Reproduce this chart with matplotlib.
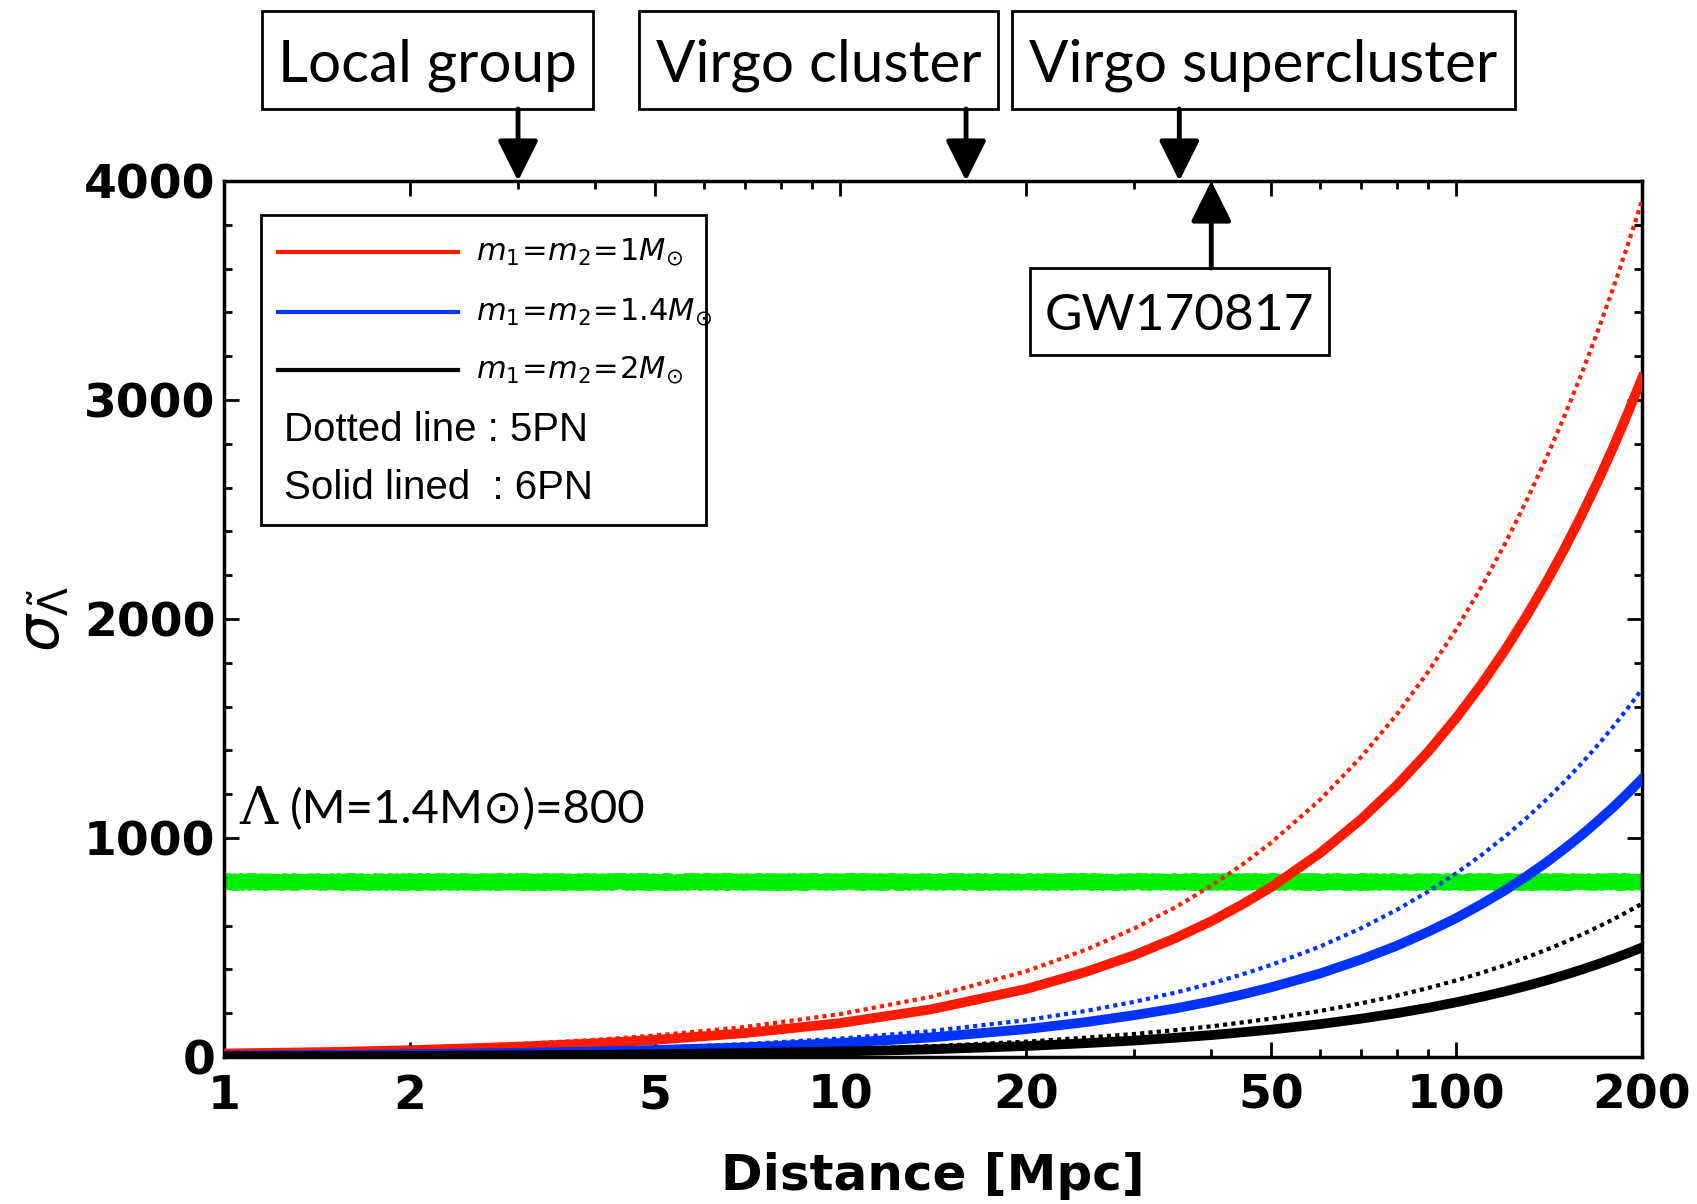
import matplotlib
matplotlib.use("Agg")
import matplotlib.pyplot as plt
from matplotlib.patches import Rectangle
from matplotlib.ticker import FixedLocator, MultipleLocator, NullFormatter

# distances [Mpc] and estimated errors on the tidal deformability
distance = [1, 1.5, 2, 3, 4, 5, 7, 10, 14, 20, 25, 30, 35, 40, 45, 50, 60,
            70, 80, 90, 100, 110, 120, 130, 140, 150, 160, 170, 180, 190, 200]

red_5pn = [20, 29, 39, 59, 78, 98, 137, 196, 274, 391, 489, 587, 684, 782,
           880, 978, 1173, 1369, 1564, 1760, 1955, 2151, 2346, 2542, 2737,
           2933, 3128, 3324, 3519, 3715, 3910]
red_6pn = [16, 23, 31, 47, 62, 78, 109, 155, 217, 310, 388, 465, 543, 620,
           698, 775, 930, 1085, 1240, 1395, 1550, 1705, 1860, 2015, 2170,
           2325, 2480, 2635, 2790, 2945, 3100]
blue_5pn = [8, 13, 17, 25, 34, 42, 59, 84, 118, 168, 210, 252, 294, 336,
            378, 420, 504, 588, 672, 756, 840, 924, 1008, 1092, 1176, 1260,
            1344, 1428, 1512, 1596, 1680]
blue_6pn = [6, 10, 13, 19, 25, 32, 44, 64, 89, 127, 159, 191, 222, 254, 286,
            318, 381, 445, 508, 572, 635, 699, 762, 826, 889, 953, 1016,
            1080, 1143, 1207, 1270]
black_5pn = [4, 5, 7, 11, 14, 18, 25, 35, 49, 70, 88, 105, 123, 140, 158,
             175, 210, 245, 280, 315, 350, 385, 420, 455, 490, 525, 560, 595,
             630, 665, 700]
black_6pn = [3, 4, 5, 8, 10, 13, 18, 25, 35, 50, 63, 75, 88, 100, 113, 125,
             150, 175, 200, 225, 250, 275, 300, 325, 350, 375, 400, 425, 450,
             475, 500]

lambda_ref = 800

xticks = [1, 2, 5, 10, 20, 50, 100, 200]
yticks = [0, 1000, 2000, 3000, 4000]

mass_labels = [r"$m_1\!=\!m_2\!=\!1M_{\!\odot}$",
               r"$m_1\!=\!m_2\!=\!1.4M_{\!\odot}$",
               r"$m_1\!=\!m_2\!=\!2M_{\!\odot}$"]
colors = ["#ff1a00", "#0033ff", "black"]

# (label, distance of source, box in pixels: x0, x1, y0, y1 from top-left)
structures = [("Local group", 3, (262, 593, 11, 109)),
              ("Virgo cluster", 16, (639, 998, 11, 109)),
              ("Virgo supercluster", 35.5, (1012, 1515, 11, 109))]
gw_event = ("GW170817", 40, (1030, 1329, 268, 355))

W, H = 1697, 1204
fig = plt.figure(figsize=(W / 100, H / 100), dpi=100)
ax = fig.add_axes([224 / W, 1 - 1057 / H, 1418 / W, 876 / H])


def px(x, y):
    return x / W, 1 - y / H


green = ax.axhline(lambda_ref, color="#00ee00", lw=10, zorder=2)
green.set_sketch_params(scale=2, length=6, randomness=3)

solid_lw = 7
dot_lw = 3
for c, d5, d6 in [(colors[0], red_5pn, red_6pn),
                  (colors[1], blue_5pn, blue_6pn),
                  (colors[2], black_5pn, black_6pn)]:
    ax.plot(distance, d5, color=c, lw=dot_lw, ls=(0, (1, 1)), zorder=3)
    ax.plot(distance, d6, color=c, lw=solid_lw, zorder=3)

ax.set_xscale("log")
ax.set_xlim(1, 200)
ax.set_ylim(0, 4000)
ax.xaxis.set_major_locator(FixedLocator(xticks))
ax.set_xticklabels([str(t) for t in xticks])
ax.xaxis.set_minor_formatter(NullFormatter())
ax.set_yticks(yticks)
ax.yaxis.set_minor_locator(MultipleLocator(200))

ax.tick_params(which="both", direction="in", top=True, right=True, width=2)
ax.tick_params(which="major", length=11)
ax.tick_params(which="minor", length=6)
ax.tick_params(axis="x", pad=12)
ax.tick_params(axis="y", pad=6)
for lab in ax.get_xticklabels() + ax.get_yticklabels():
    lab.set_fontsize(34)
    lab.set_fontweight("bold")
for s in ax.spines.values():
    s.set_linewidth(2.5)

ax.set_xlabel("Distance [Mpc]", fontsize=36, fontweight="bold",
              va="baseline")
ax.xaxis.set_label_coords(0.5, -0.152)
ax.set_ylabel(r"$\sigma_{\tilde{\Lambda}}$", fontsize=42, va="center")
ax.yaxis.set_label_coords(-0.128, 0.5)

# legend drawn by hand
ax.add_patch(Rectangle((0.026, 0.607), 0.314, 0.354, transform=ax.transAxes,
                       fill=False, lw=2, ec="black", zorder=5))
for ypos, c, lab in zip([0.919, 0.850, 0.784], colors, mass_labels):
    ax.plot([0.038, 0.165], [ypos, ypos], transform=ax.transAxes, color=c,
            lw=3, zorder=6)
    ax.text(0.178, ypos, lab, transform=ax.transAxes, fontsize=22,
            va="center", ha="left", zorder=6)
ax.text(0.042, 0.716, "Dotted line : 5PN", transform=ax.transAxes,
        fontsize=29, family="Liberation Sans", va="center", zorder=6)
ax.text(0.042, 0.650, "Solid lined  : 6PN", transform=ax.transAxes,
        fontsize=29, family="Liberation Sans", va="center", zorder=6)

ax.text(1.06, 1130, "Λ", fontsize=38, family="DejaVu Serif", va="center")
ax.text(1.28, 1130, "(M=1.4M⊙)=800", fontsize=34,
        family=["Lato", "DejaVu Sans"], va="center")


def label_box(text, xd, box, size, upward=False):
    x0, x1, y0, y1 = box
    fx0, fy1 = px(x0, y1)
    fx1, fy0 = px(x1, y0)
    fig.add_artist(Rectangle((fx0, fy1), fx1 - fx0, fy0 - fy1,
                             transform=fig.transFigure, fill=False,
                             lw=2, ec="black"))
    fig.text((fx0 + fx1) / 2, (fy0 + fy1) / 2 - 0.004, text, fontsize=size,
             family="Lato", ha="center", va="center")
    ystart = y0 if upward else y1
    ax.annotate("", xy=(xd, 4000), xycoords="data",
                xytext=(xd, 1 - ystart / H),
                textcoords=("data", "figure fraction"),
                arrowprops=dict(arrowstyle="-|>,head_length=1.0,head_width=0.5",
                                lw=3.5, color="black", mutation_scale=25,
                                shrinkA=0, shrinkB=0),
                annotation_clip=False)


for name, d, box in structures:
    label_box(name, d, box, 42)
label_box(gw_event[0], gw_event[1], gw_event[2], 37, upward=True)

fig.savefig("out.png", dpi=100)
